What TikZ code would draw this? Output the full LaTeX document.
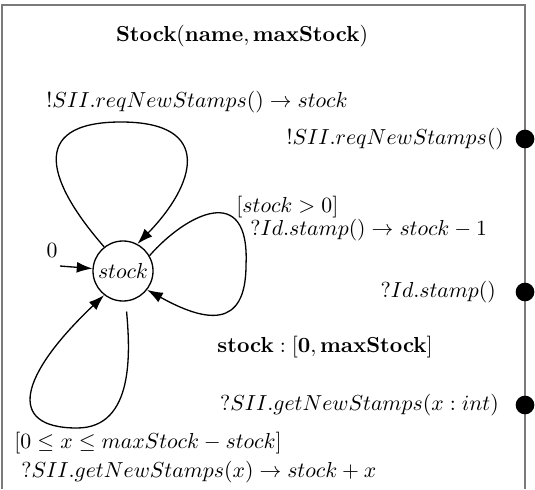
\documentclass[tikz,border=0pt]{standalone}
\usepackage{amsmath,amssymb}
\usetikzlibrary{arrows.meta,positioning}
\definecolor{framegray}{HTML}{7A7A7A}

\begin{document}
\begin{tikzpicture}[x=0.46pt, y=-0.46pt,
  statenode/.style={draw, circle, minimum size=27.6pt, inner sep=0pt, line width=0.6pt},
  portdot/.style={fill=black, circle, minimum size=8.6pt, inner sep=0pt},
  portlbl/.style={anchor=east, inner sep=0pt},
  lbl/.style={inner sep=0pt},
  frame/.style={draw=framegray, line width=1.1pt},
  arr/.style={-{Latex[length=7.2pt, width=5pt]}, line width=0.6pt}
]
\useasboundingbox (0,0) rectangle (535,489);
\draw[frame] (2,489) -- (2,5) -- (525,5) -- (525,489);
\node[lbl] (title) at (242,36) {$\mathbf{Stock(name, maxStock)}$};
% state and initial arrow
\node[statenode] (st) at (123,271) {$stock$};
\coordinate (init) at (60,266);
\node[lbl] (zero) at (52,250) {$0$};
\draw[arr] (init) -- (st);
% self loops
\draw[arr] (st.128) .. controls (50,185) and (25,122) .. (121,122)
  .. controls (215,122) and (195,185) .. (st.62);
\draw[arr] (st.30) .. controls (185,215) and (250,180) .. (246,265)
  .. controls (246,330) and (205,322) .. (st.-38);
\draw[arr, shorten <=4.6pt] (st.-85) .. controls (130,350) and (135,428) .. (77,428)
  .. controls (5,428) and (20,375) .. (st.-128);
% transition labels
\node[lbl] (lreq) at (197,102) {$!SII.reqNewStamps() \rightarrow stock$};
\node[lbl, anchor=north west, align=left] (lstamp) at (236,196)
  {$[stock > 0]$\\[-1.5pt]\hspace{6.4pt}$?Id.stamp() \rightarrow stock - 1$};
\node[lbl, anchor=north west, align=left] (lget) at (14,432)
  {$[0 \leq x \leq maxStock - stock]$\\[1pt]\hspace{3.2pt}$?SII.getNewStamps(x) \rightarrow stock + x$};
\node[lbl, anchor=west] (var) at (217,347) {$\mathbf{stock : [0, maxStock]}$};
% ports
\node[portdot] (preq) at (525,139) {};
\node[portdot] (pstamp) at (525,292) {};
\node[portdot] (pget) at (525,405) {};
\node[portlbl, left=5pt of preq] (lpreq) {$!SII.reqNewStamps()$};
\node[portlbl, left=8.7pt of pstamp] (lpstamp) {$?Id.stamp()$};
\node[portlbl, left=7.4pt of pget] (lpget) {$?SII.getNewStamps(x : int)$};
\end{tikzpicture}
\end{document}
